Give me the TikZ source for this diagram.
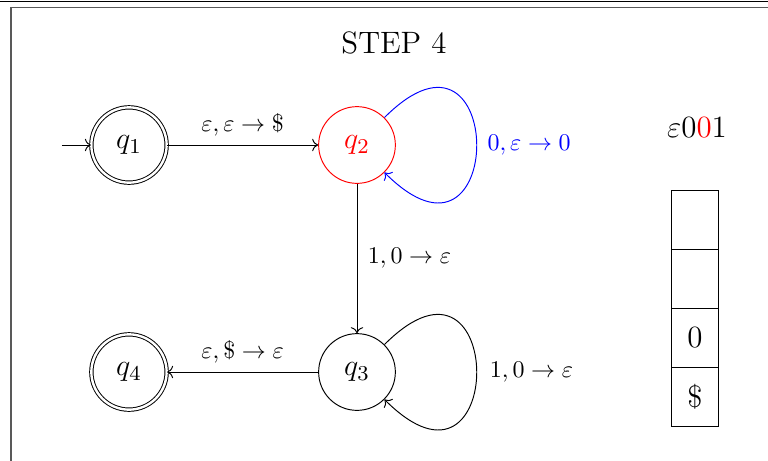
\RequirePackage{fix-cm}
\documentclass[tikz,border=0pt]{standalone}
\usetikzlibrary{arrows.meta}
\newcommand\bigfnt{\fontsize{12.9}{15}\selectfont}
\newcommand\qfnt{\fontsize{12.6}{15}\selectfont}
\tikzset{
  px/.style={x=0.417pt,y=-0.417pt},
  st/.style={circle,draw,minimum size=32pt,inner sep=0pt,font=\qfnt},
  acc/.style={st,double,double distance=1pt,minimum size=31.4pt},
  lbl/.style={font=\normalsize},
  cell/.style={rectangle,draw,minimum width=20pt,minimum height=24.6pt,inner sep=0pt,font=\bigfnt},
  frameline/.style={draw=black!65,line width=0.8pt}
}
\begin{document}
\begin{tikzpicture}[px]
\useasboundingbox (0,0) rectangle (768,460);
\draw[line width=0.6pt] (0,1.5) -- (768,1.5);
\draw[frameline] (768,7.5) -- (11,7.5) -- (11,461);
\node[font=\bigfnt] (title) at (394,43) {STEP 4};
\node[acc] (q1) at (129,145) {$q_1$};
\node[st,draw=red,text=red] (q2) at (357,145) {$q_2$};
\node[st] (q3) at (357,372) {$q_3$};
\node[acc] (q4) at (129,372) {$q_4$};
\coordinate (start) at (62,145);
\draw[->] (start) -- (q1);
\draw[->] (q1) -- node[above,lbl] {$\varepsilon,\varepsilon\rightarrow\$$} (q2);
\draw[->] (q2) -- node[right,lbl,xshift=1pt] {$1,0\rightarrow\varepsilon$} (q3);
\draw[->] (q3) -- node[above,lbl] {$\varepsilon,\$\rightarrow\varepsilon$} (q4);
\draw[->,blue] (q2) to[out=45,in=-45,distance=72.5pt] node[right,lbl,xshift=1pt] {$0,\varepsilon\rightarrow0$} (q2);
\draw[->] (q3) to[out=45,in=-45,distance=72.5pt] node[right,lbl,xshift=2pt] {$1,0\rightarrow\varepsilon$} (q3);
\node[font=\bigfnt] (input) at (697,128) {$\varepsilon$0\textcolor{red}{0}1};
\node[cell] (s1) at (695,219.5) {};
\node[cell] (s2) at (695,278.5) {};
\node[cell] (s3) at (695,337.5) {0};
\node[cell] (s4) at (695,396.5) {\$};
\end{tikzpicture}
\end{document}
